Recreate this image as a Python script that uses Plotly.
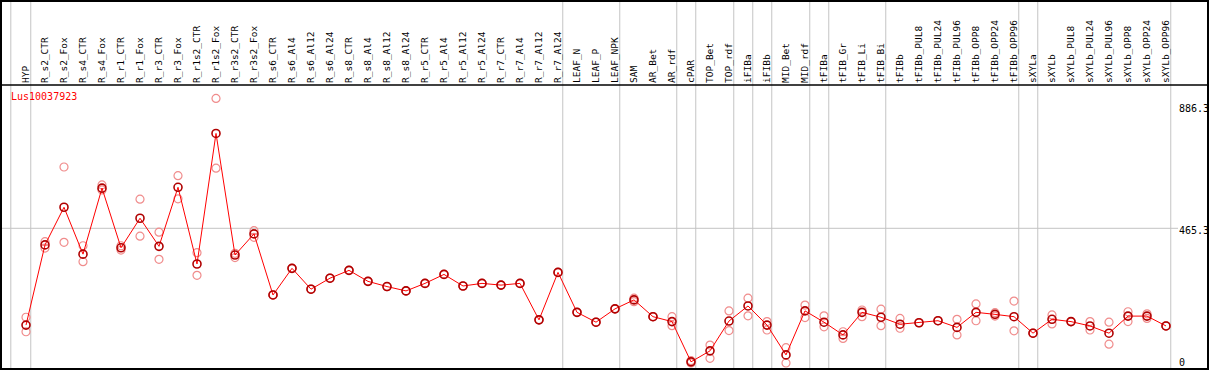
import plotly.graph_objects as go

categories = [
    "HYP", "R_s2_CTR", "R_s2_Fox", "R_s4_CTR", "R_s4_Fox", "R_r1_CTR", "R_r1_Fox",
    "R_r3_CTR", "R_r3_Fox", "R_r1s2_CTR", "R_r1s2_Fox", "R_r3s2_CTR", "R_r3s2_Fox",
    "R_s6_CTR", "R_s6_Al4", "R_s6_Al12", "R_s6_Al24", "R_s8_CTR", "R_s8_Al4",
    "R_s8_Al12", "R_s8_Al24", "R_r5_CTR", "R_r5_Al4", "R_r5_Al12", "R_r5_Al24",
    "R_r7_CTR", "R_r7_Al4", "R_r7_Al12", "R_r7_Al24", "LEAF_N", "LEAF_P", "LEAF_NPK",
    "SAM", "AR_Bet", "AR_rdf", "cPAR", "TOP_Bet", "TOP_rdf", "iFIBa", "iFIBb",
    "MID_Bet", "MID_rdf", "tFIBa", "tFIB_Gr", "tFIB_Li", "tFIB_Bi", "tFIBb",
    "tFIBb_PUL8", "tFIBb_PUL24", "tFIBb_PUL96", "tFIBb_OPP8", "tFIBb_OPP24",
    "tFIBb_OPP96", "sXYLa", "sXYLb", "sXYLb_PUL8", "sXYLb_PUL24", "sXYLb_PUL96",
    "sXYLb_OPP8", "sXYLb_OPP24", "sXYLb_OPP96",
]

mean_vals = [
    131, 408, 538, 376, 604, 398, 500, 403, 607, 342, 793, 373, 446,
    235, 327, 255, 293, 320, 282, 264, 249, 275, 306, 266, 275, 269, 275, 149, 313,
    175, 141, 187, 218, 160, 143, 4, 42, 145, 197, 131, 28, 180, 141, 97, 175, 158,
    134, 139, 146, 123, 175, 168, 160, 103, 151, 143, 128, 103, 162, 162, 128,
]

rep_vals = [
    [158, 108], [419, 397], [677, 417], [405, 350], [615, 598], [405, 390], [566, 438],
    [452, 358], [647, 567], [381, 303], [914, 673], [379, 364], [457, 434],
    [235, 235], [327, 327], [255, 255], [293, 293], [320, 320], [282, 282], [264, 264],
    [249, 249], [275, 275], [306, 306], [266, 266], [275, 275], [269, 269], [275, 275],
    [149, 149], [313, 313], [175, 175], [141, 141], [187, 187],
    [224, 212], [160, 160], [160, 129], [8, 0], [62, 16], [180, 112], [224, 163],
    [143, 114], [53, 0], [200, 157], [163, 125], [85, 108], [183, 160], [186, 129],
    [154, 120], [139, 139], [146, 146], [151, 97], [204, 146], [162, 174], [214, 111],
    [103, 103], [166, 135], [143, 143], [143, 114], [141, 65], [177, 143], [154, 170],
    [128, 128],
]

# category after which a group separator line is drawn
separators_after = ["HYP", "R_r7_Al24", "LEAF_NPK", "AR_rdf", "cPAR", "TOP_rdf", "iFIBa",
                    "iFIBb", "MID_rdf", "tFIBa", "tFIB_Bi", "tFIBb_OPP96", "sXYLa",
                    "sXYLb_OPP96"]

y_ticks = [0, 465.3, 886.3]
gene = "Lus10037923"

x = list(range(len(categories)))
rep_x, rep_y = [], []
for i, reps in enumerate(rep_vals):
    for r in reps:
        rep_x.append(i)
        rep_y.append(r)

fig = go.Figure()
fig.add_trace(go.Scatter(
    x=rep_x, y=rep_y, mode="markers", cliponaxis=False,
    marker=dict(symbol="circle-open", size=8, color="#f08c8c", line=dict(width=1.2)),
    hoverinfo="skip",
))
fig.add_trace(go.Scatter(
    x=x, y=mean_vals, mode="lines+markers", cliponaxis=False,
    line=dict(color="#ff0000", width=1),
    marker=dict(symbol="circle-open", size=8, color="#b00000", line=dict(width=1.6)),
))

W, H = 1209, 370
ml, mr, mt, mb = 1, 1, 85, 1
pw = W - ml - mr
ph = H - mt - mb
top_paper = 1 + mt / ph
px_per_cat = 19.0
first_px = 26.0
x0 = -(first_px - ml) / px_per_cat
x1 = x0 + pw / px_per_cat

px_per_val = 0.2895
zero_px = 363.0
y_lo = -(H - mb - zero_px) / px_per_val
y_hi = (zero_px - mt) / px_per_val

shapes = []
shapes.append(dict(type="rect", xref="paper", yref="paper", x0=0, x1=1.0,
                   y0=0, y1=top_paper - 1 / ph, line=dict(color="black", width=2)))
shapes.append(dict(type="line", xref="paper", yref="paper", x0=-1 / pw, x1=1.0,
                   y0=1, y1=1, line=dict(color="black", width=1.5)))
sep_pos = [-0.8] + [categories.index(c) + 0.25 for c in separators_after]
for s in sep_pos:
    shapes.append(dict(type="line", xref="x", yref="paper", x0=s, x1=s, y0=0,
                       y1=top_paper, line=dict(color="#c4c4c4", width=1), layer="below"))
shapes.append(dict(type="line", xref="paper", yref="y", x0=0, x1=(1178 - ml) / pw,
                   y0=465.3, y1=465.3, line=dict(color="#c4c4c4", width=1), layer="below"))

annotations = []
for v, ys in zip(y_ticks, [1, -2, -2]):
    annotations.append(dict(xref="paper", yref="y", x=(1177 - ml) / pw, y=v,
                            xanchor="left", yanchor="middle", yshift=ys,
                            text=("%g" % v), showarrow=False,
                            font=dict(family="DejaVu Sans Mono", size=10, color="black")))
annotations.append(dict(xref="paper", yref="y", x=(9 - ml) / pw,
                        y=(zero_px - 96.7) / px_per_val, xanchor="left", yanchor="middle",
                        text=gene, showarrow=False,
                        font=dict(family="DejaVu Sans Mono", size=10, color="#ff0000")))

fig.update_layout(
    width=W, height=H,
    margin=dict(l=ml, r=mr, t=mt, b=mb, pad=0),
    paper_bgcolor="white", plot_bgcolor="white",
    showlegend=False,
    shapes=shapes, annotations=annotations,
    xaxis=dict(range=[x0, x1], tickmode="array", tickvals=x, ticktext=categories,
               side="top", tickangle=-90, showgrid=False, zeroline=False,
               showline=False, ticks="", automargin=False, ticklabelstandoff=1,
               tickfont=dict(family="DejaVu Sans Mono", size=9.5, color="black")),
    yaxis=dict(range=[y_lo, y_hi], visible=False, automargin=False),
)

fig.write_html("out.html", config={"displayModeBar": False},
               post_script="document.body.style.margin='0';document.body.style.overflow='hidden';")
